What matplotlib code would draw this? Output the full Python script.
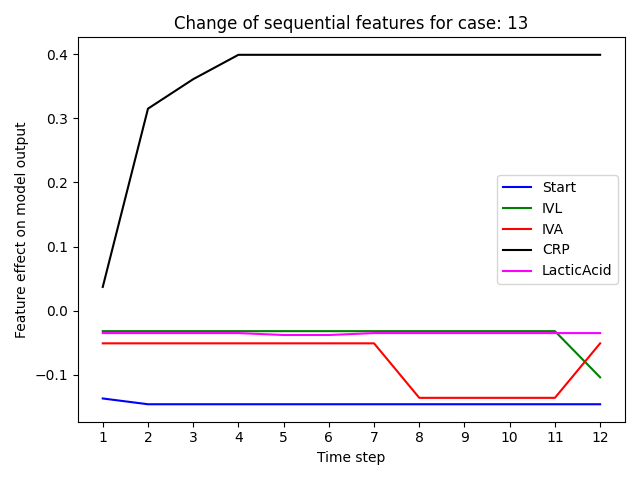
import matplotlib
matplotlib.use("Agg")
import matplotlib.pyplot as plt

steps = list(range(1, 13))
start = [-0.137, -0.146, -0.146, -0.146, -0.146, -0.146, -0.146, -0.146, -0.146, -0.146, -0.146, -0.146]
ivl = [-0.032] * 11 + [-0.104]
iva = [-0.051] * 7 + [-0.136] * 4 + [-0.051]
crp = [0.037, 0.315, 0.361, 0.399, 0.399, 0.399, 0.399, 0.399, 0.399, 0.399, 0.399, 0.399]
lactic = [-0.035, -0.035, -0.035, -0.035, -0.038, -0.038, -0.035, -0.035, -0.035, -0.035, -0.035, -0.035]

fig, ax = plt.subplots(figsize=(6.4, 4.8), dpi=100)
ax.plot(steps, start, color="blue", label="Start")
ax.plot(steps, ivl, color="green", label="IVL")
ax.plot(steps, iva, color="red", label="IVA")
ax.plot(steps, crp, color="black", label="CRP")
ax.plot(steps, lactic, color="magenta", label="LacticAcid")
ax.set_xticks(steps)
ax.set_xlabel("Time step")
ax.set_ylabel("Feature effect on model output")
ax.set_title("Change of sequential features for case: 13")
ax.legend(loc="center right")
plt.tight_layout()
fig.savefig("out.png")
